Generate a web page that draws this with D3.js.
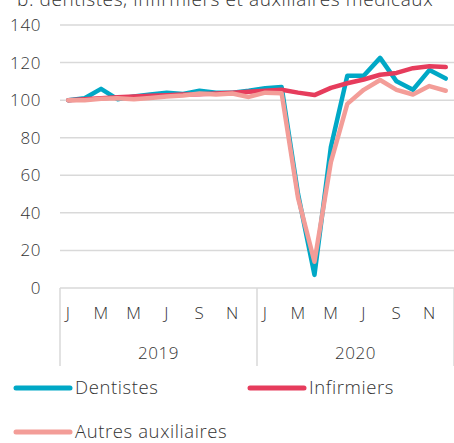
<!DOCTYPE html>
<html>
<head>
<meta charset="utf-8">
<script src="https://cdn.jsdelivr.net/npm/d3@7"></script>
<style>
  body { margin: 0; background: #fff; }
  svg { display: block; font-family: "Open Sans", Lato, sans-serif; font-weight: 300; }
  .grid line { stroke: #d9d9d9; stroke-width: 1.5; }
  .lbl { fill: #333; font-size: 17px; letter-spacing: 0.6px; }
  .line { fill: none; stroke-width: 4.5; stroke-linejoin: round; stroke-linecap: round; }
</style>
</head>
<body>
<svg width="454" height="443"></svg>
<script>
const years = ["2019", "2020"];
const monthLetters = ["J", "F", "M", "A", "M", "J", "J", "A", "S", "O", "N", "D"];
const yTicks = [0, 20, 40, 60, 80, 100, 120, 140];

const dentistes = [100, 101, 106, 100.5, 102, 103, 104, 103.3, 105, 104, 104, 105,
                   106.4, 107, 50, 7, 75, 113, 113, 122.5, 110, 105.5, 116, 111.5];
const infirmiers = [100, 100.5, 101, 101.5, 102, 102.3, 102.6, 103, 103.2, 103.6, 104, 104.5,
                    105, 105.5, 104, 102.7, 106.5, 109, 111, 113.5, 114.5, 117, 118, 117.6];
const autres = [100, 100, 100.8, 101, 100.5, 101.2, 102, 102.5, 103.5, 103, 103.5, 101.7,
                104, 103.7, 48, 14, 67, 98, 105.5, 110.7, 105.5, 103, 107.5, 105];

const series = [
  { name: "Dentistes", values: dentistes, color: "#00a8c6" },
  { name: "Infirmiers", values: infirmiers, color: "#e63c5c" },
  { name: "Autres auxiliaires", values: autres, color: "#f39d98" }
];

const svg = d3.select("svg");
const n = dentistes.length;
const x = d3.scaleBand().domain(d3.range(n)).range([60, 454]);
const cx = i => x(i) + x.bandwidth() / 2;
const y = d3.scaleLinear().domain([0, 140]).range([288, 25]);

// titre coupé en haut
svg.append("text").attr("class", "lbl")
  .attr("x", 17).attr("y", 6)
  .style("font-size", "19px")
  .text("b. dentistes, infirmiers et auxiliaires médicaux");

// grille
svg.append("g").attr("class", "grid")
  .selectAll("line").data(yTicks.filter(d => d > 0)).join("line")
  .attr("x1", 60).attr("x2", 454)
  .attr("y1", d => y(d)).attr("y2", d => y(d));

svg.append("g").selectAll("text").data(yTicks).join("text")
  .attr("class", "lbl")
  .attr("x", 41).attr("y", d => y(d)).attr("dy", "0.35em")
  .attr("text-anchor", "end")
  .text(d => d);

// axe x
const ax = svg.append("g").attr("class", "grid");
ax.append("line").attr("x1", 60).attr("x2", 454).attr("y1", y(0)).attr("y2", y(0));
[0, 12, 24].forEach(i => {
  const xx = i < n ? x(i) : x.range()[1];
  ax.append("line").attr("x1", xx).attr("x2", xx).attr("y1", y(0)).attr("y2", 366);
});

svg.append("g").selectAll("text").data(d3.range(n).filter(i => i % 2 === 0)).join("text")
  .attr("class", "lbl")
  .attr("x", i => cx(i)).attr("y", 313).attr("dy", "0.35em")
  .attr("text-anchor", "middle")
  .text(i => monthLetters[i % 12]);

svg.append("g").selectAll("text").data(years).join("text")
  .attr("class", "lbl")
  .attr("x", (d, k) => (x(k * 12) + x(k * 12 + 11) + x.bandwidth()) / 2)
  .attr("y", 353).attr("dy", "0.35em")
  .attr("text-anchor", "middle")
  .text(d => d);

// courbes
const line = d3.line().x((d, i) => cx(i)).y(d => y(d));
svg.append("g").selectAll("path").data(series).join("path")
  .attr("class", "line")
  .attr("stroke", d => d.color)
  .attr("d", d => line(d.values));

// légende
const legPos = [[16, 388], [250, 388], [16, 432]];
const leg = svg.append("g").selectAll("g").data(series).join("g")
  .attr("transform", (d, i) => `translate(${legPos[i][0]},${legPos[i][1]})`);
leg.append("line")
  .attr("x1", 0).attr("x2", 54).attr("y1", 0).attr("y2", 0)
  .attr("stroke", d => d.color).attr("stroke-width", 5).attr("stroke-linecap", "round");
leg.append("text").attr("class", "lbl")
  .attr("x", 59).attr("y", 0).attr("dy", "0.35em")
  .style("font-size", "18.5px")
  .text(d => d.name);
</script>
</body>
</html>
